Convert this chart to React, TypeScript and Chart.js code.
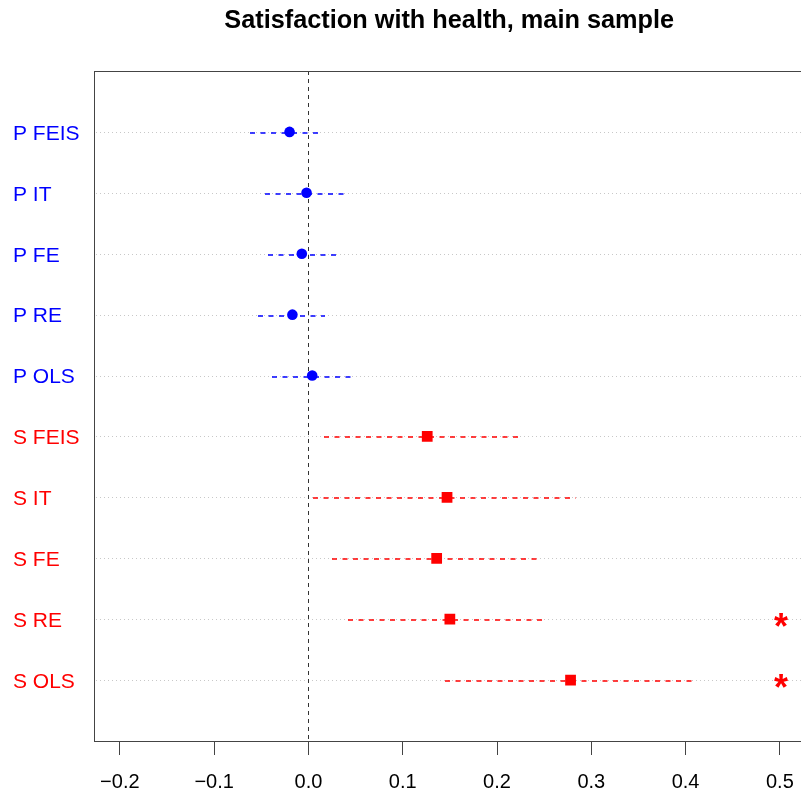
import React, { useEffect, useRef } from 'react';
import { Chart, registerables } from 'chart.js';

Chart.register(...registerables);

const title = 'Satisfaction with health, main sample';
const labels = ['P FEIS', 'P IT', 'P FE', 'P RE', 'P OLS', 'S FEIS', 'S IT', 'S FE', 'S RE', 'S OLS'];
const groups = ['P', 'P', 'P', 'P', 'P', 'S', 'S', 'S', 'S', 'S'];
const estimates = [-0.020, -0.002, -0.007, -0.017, 0.004, 0.126, 0.147, 0.136, 0.150, 0.278];
const lower = [-0.062, -0.046, -0.043, -0.053, -0.039, 0.017, 0.005, 0.025, 0.042, 0.145];
const upper = [0.012, 0.039, 0.030, 0.018, 0.046, 0.225, 0.284, 0.246, 0.253, 0.411];
const significant = [false, false, false, false, false, false, false, false, true, true];
const xTicks = [-0.2, -0.1, 0.0, 0.1, 0.2, 0.3, 0.4, 0.5];
const starX = 0.5;

const BLUE = '#0000ff';
const RED = '#ff0000';
const FONT = '"Liberation Sans", Arial, Helvetica, sans-serif';
const colorOf = (g: string) => (g === 'P' ? BLUE : RED);
const fmt = (v: number) => (v < 0 ? '\u2212' + Math.abs(v).toFixed(1) : v.toFixed(1));

const forestPlugin = {
  id: 'forest',
  beforeDatasetsDraw(chart: any) {
    const { ctx, chartArea, scales } = chart;
    const x = scales.x;
    const y = scales.y;
    ctx.save();
    // dotted row guide lines
    ctx.strokeStyle = '#c8c8c8';
    ctx.lineWidth = 1;
    ctx.setLineDash([1, 3]);
    labels.forEach((_, i) => {
      const py = Math.round(y.getPixelForValue(i + 1)) + 0.5;
      ctx.beginPath();
      ctx.moveTo(chartArea.left + 2, py);
      ctx.lineTo(chartArea.right, py);
      ctx.stroke();
    });
    // zero reference line
    ctx.strokeStyle = '#333333';
    ctx.setLineDash([4, 4]);
    const zx = Math.round(x.getPixelForValue(0)) + 0.5;
    ctx.beginPath();
    ctx.moveTo(zx, chartArea.top);
    ctx.lineTo(zx, chartArea.bottom);
    ctx.stroke();
    // confidence intervals
    ctx.setLineDash([5, 5.5]);
    ctx.lineWidth = 1.5;
    labels.forEach((_, i) => {
      const py = Math.round(y.getPixelForValue(i + 1)) + 1;
      ctx.strokeStyle = colorOf(groups[i]);
      ctx.beginPath();
      ctx.moveTo(Math.round(x.getPixelForValue(lower[i])), py);
      ctx.lineTo(Math.round(x.getPixelForValue(upper[i])), py);
      ctx.stroke();
    });
    ctx.restore();
  },
  afterDraw(chart: any) {
    const { ctx, chartArea, scales } = chart;
    const x = scales.x;
    const y = scales.y;
    ctx.save();
    // box
    ctx.strokeStyle = '#444444';
    ctx.lineWidth = 1;
    ctx.setLineDash([]);
    ctx.strokeRect(
      Math.round(chartArea.left) + 0.5,
      Math.round(chartArea.top) + 0.5,
      Math.round(chartArea.right - chartArea.left),
      Math.round(chartArea.bottom - chartArea.top)
    );
    // significance stars
    ctx.fillStyle = RED;
    ctx.font = `bold 36px ${FONT}`;
    ctx.textAlign = 'center';
    ctx.textBaseline = 'alphabetic';
    labels.forEach((_, i) => {
      if (!significant[i]) return;
      const py = y.getPixelForValue(i + 1);
      ctx.fillText('*', x.getPixelForValue(starX) + 1, py + 20);
    });
    // title centred over the plot region
    ctx.fillStyle = '#000000';
    ctx.font = `bold 25.3px ${FONT}`;
    ctx.textBaseline = 'middle';
    ctx.fillText(title, (chartArea.left + chartArea.right) / 2, 21);
    ctx.restore();
  },
};

export default function App() {
  const ref = useRef<HTMLCanvasElement | null>(null);

  useEffect(() => {
    if (!ref.current) return;
    const chart = new Chart(ref.current, {
      type: 'scatter',
      data: {
        datasets: [
          {
            label: 'P',
            data: labels.map((_, i) => ({ x: estimates[i], y: i + 1 })).filter((_, i) => groups[i] === 'P'),
            pointStyle: 'circle',
            pointRadius: 5.3,
            backgroundColor: BLUE,
            borderColor: BLUE,
            borderWidth: 0,
          },
          {
            label: 'S',
            data: labels.map((_, i) => ({ x: estimates[i], y: i + 1 })).filter((_, i) => groups[i] === 'S'),
            pointStyle: 'rect',
            pointRadius: 7.6,
            backgroundColor: RED,
            borderColor: RED,
            borderWidth: 0,
          },
        ],
      },
      options: {
        animation: false,
        responsive: false,
        maintainAspectRatio: false,
        devicePixelRatio: 1,
        layout: { padding: { left: 13, right: 2, top: 71, bottom: 0 } },
        plugins: {
          legend: { display: false },
          tooltip: { enabled: false },
          title: { display: false },
        },
        scales: {
          x: {
            type: 'linear',
            min: -0.2274,
            max: 0.526,
            afterBuildTicks: (scale: any) => {
              scale.ticks = xTicks.map((v) => ({ value: v }));
            },
            afterFit: (scale: any) => {
              scale.height = 53;
            },
            ticks: {
              autoSkip: false,
              maxRotation: 0,
              callback: (v: any) => fmt(Number(v)),
              color: '#000000',
              font: { family: FONT, size: 20 },
              padding: 15,
            },
            grid: {
              display: true,
              drawOnChartArea: false,
              drawTicks: true,
              tickLength: 14,
              tickColor: '#444444',
              tickWidth: 1,
            },
            border: { display: false },
          },
          y: {
            type: 'linear',
            min: 0,
            max: 11,
            reverse: true,
            afterBuildTicks: (scale: any) => {
              scale.ticks = labels.map((_, i) => ({ value: i + 1 }));
            },
            afterFit: (scale: any) => {
              scale.width = 81;
            },
            ticks: {
              autoSkip: false,
              crossAlign: 'far',
              labelOffset: 2,
              callback: (v: any) => labels[Number(v) - 1] ?? '',
              color: (ctx: any) => colorOf(groups[(ctx.tick?.value ?? 1) - 1] ?? 'P'),
              font: { family: FONT, size: 21 },
            },
            grid: { display: false },
            border: { display: false },
          },
        },
      },
      plugins: [forestPlugin],
    } as any);
    return () => chart.destroy();
  }, []);

  return (
    <div style={{ position: 'fixed', left: 0, top: 0, width: 801, height: 794, overflow: 'hidden', background: '#ffffff' }}>
      <canvas ref={ref} width={812} height={794} style={{ display: 'block', width: 812, height: 794 }} />
    </div>
  );
}
